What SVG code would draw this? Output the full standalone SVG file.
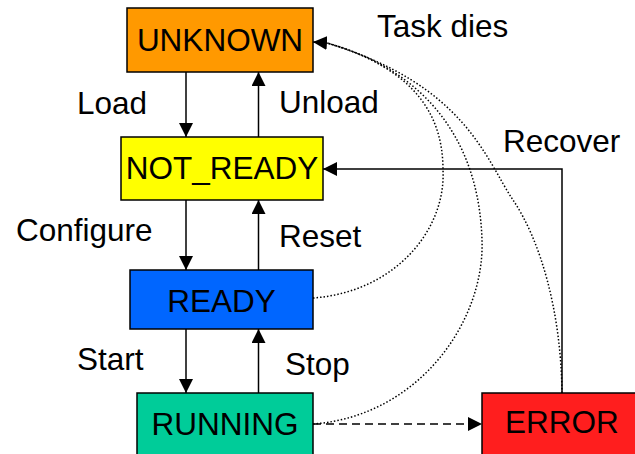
<svg xmlns="http://www.w3.org/2000/svg" width="635" height="454" viewBox="0 0 635 454">
<defs>
<marker id="ah" markerUnits="userSpaceOnUse" markerWidth="15" markerHeight="15" refX="14" refY="7" orient="auto">
<path d="M0,0 L14,7 L0,14 z" fill="#000"/>
</marker>
<style>
.box{stroke:#000;stroke-width:1.5}
.t{font-family:"Liberation Sans",Arial,sans-serif;font-size:31.5px;fill:#000}
.c{text-anchor:middle}
.e{fill:none;stroke:#000;stroke-width:1.5}
.d{fill:none;stroke:#000;stroke-width:1.5;stroke-dasharray:1.5 2}
</style>
</defs>
<rect width="635" height="454" fill="#fff"/>
<g id="connectors">
<line class="e" x1="186" y1="72" x2="186" y2="137" marker-end="url(#ah)"/>
<line class="e" x1="258.5" y1="137" x2="258.5" y2="72" marker-end="url(#ah)"/>
<line class="e" x1="186" y1="200" x2="186" y2="270" marker-end="url(#ah)"/>
<line class="e" x1="258.5" y1="270" x2="258.5" y2="200" marker-end="url(#ah)"/>
<line class="e" x1="186" y1="329" x2="186" y2="393" marker-end="url(#ah)"/>
<line class="e" x1="258.5" y1="393" x2="258.5" y2="329" marker-end="url(#ah)"/>
<polyline class="e" points="562,393 562,169 323,169" marker-end="url(#ah)"/>
<line class="e" x1="313" y1="424" x2="482" y2="424" stroke-dasharray="8 5" marker-end="url(#ah)"/>
<path class="d" d="M313,298 C395,292 446,230 443,170 C443,120 420,70 327,43"/>
<path class="d" d="M313,424 C420,416 485,320 482,240 C479,140 425,70 327,43"/>
<path class="d" d="M562,393 C561,310 540,240 513,200 C485,158 465,85 327,43"/>
<line class="e" x1="327" y1="43" x2="313" y2="42" marker-end="url(#ah)"/>
<text class="t" x="77" y="114">Load</text>
<text class="t" x="279" y="113">Unload</text>
<text class="t" x="16" y="241">Configure</text>
<text class="t" x="279" y="247">Reset</text>
<text class="t" x="77" y="370">Start</text>
<text class="t" x="285" y="375">Stop</text>
<text class="t" x="377" y="37">Task dies</text>
<text class="t" x="503" y="152">Recover</text>
</g>
<g id="unknown">
<rect class="box" x="127" y="8" width="186" height="64" fill="#ff9900"/>
<text class="t c" x="220" y="51">UNKNOWN</text>
</g>
<g id="not_ready">
<rect class="box" x="121" y="137" width="202" height="63" fill="#ffff00"/>
<text class="t c" x="222" y="179">NOT_READY</text>
</g>
<g id="ready">
<rect class="box" x="130" y="270" width="183" height="59" fill="#0066ff"/>
<text class="t c" x="221.5" y="312">READY</text>
</g>
<g id="running">
<rect class="box" x="137" y="393" width="176" height="70" fill="#00cc99"/>
<text class="t c" x="225" y="435">RUNNING</text>
</g>
<g id="error">
<rect class="box" x="482" y="393" width="165" height="70" fill="#ff1e1e"/>
<text class="t c" x="562" y="433">ERROR</text>
</g>
</svg>
